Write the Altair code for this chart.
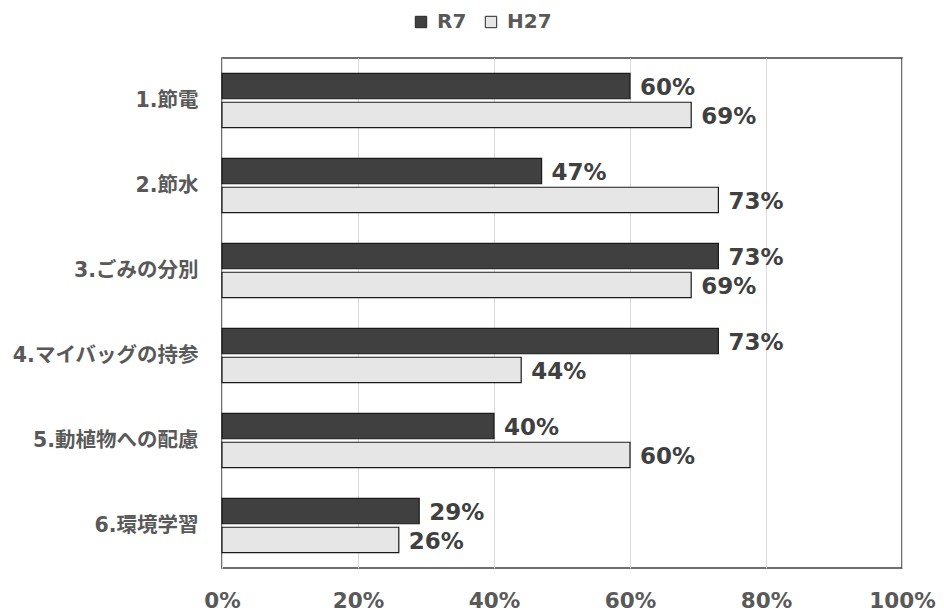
import altair as alt
import pandas as pd

categories = ["1.節電", "2.節水", "3.ごみの分別", "4.マイバッグの持参", "5.動植物への配慮", "6.環境学習"]
series = ["R7", "H27"]
r7_values = [0.60, 0.47, 0.73, 0.73, 0.40, 0.29]
h27_values = [0.69, 0.73, 0.69, 0.44, 0.60, 0.26]
x_ticks = [0, 0.2, 0.4, 0.6, 0.8, 1.0]

rows = []
for c, a, b in zip(categories, r7_values, h27_values):
    rows.append({"category": c, "series": "R7", "value": a})
    rows.append({"category": c, "series": "H27", "value": b})
df = pd.DataFrame(rows)

FONT = "Verdana, DejaVu Sans, Noto Sans CJK JP"
TEXT_GRAY = "#595959"

y_enc = alt.Y("category:N", sort=categories,
              scale=alt.Scale(paddingInner=0.36, paddingOuter=0.18),
              axis=alt.Axis(title=None, labelFont=FONT, labelFontSize=20.5, labelFontWeight="bold",
                            labelColor=TEXT_GRAY, labelPadding=24, labelLimit=400,
                            ticks=False, domain=False))
yoff = alt.YOffset("series:N", sort=series, scale=alt.Scale(paddingInner=0.12))
x_enc = alt.X("value:Q", scale=alt.Scale(domain=[0, 1], nice=False),
              axis=alt.Axis(title=None, format=".0%", values=x_ticks, labelFont=FONT,
                            labelFontSize=21.5, labelFontWeight="bold", labelColor=TEXT_GRAY,
                            labelPadding=22, labelFlush=False, labelOverlap=False,
                            ticks=False, domain=False, grid=True,
                            gridColor="#d9d9d9", gridWidth=1))

bars = alt.Chart(df).mark_bar(stroke="#1a1a1a", strokeWidth=1.2).encode(
    y=y_enc,
    yOffset=yoff,
    x=x_enc,
    color=alt.Color("series:N", sort=series,
                    scale=alt.Scale(domain=series, range=["#404040", "#e6e6e6"]),
                    legend=alt.Legend(title=None, orient="none", direction="horizontal",
                                      legendX=189, legendY=-46, symbolType="square",
                                      symbolSize=130, symbolStrokeColor="#262626",
                                      symbolStrokeWidth=1, labelFont=FONT, labelFontSize=20,
                                      labelFontWeight="bold", labelColor=TEXT_GRAY,
                                      columnPadding=14, labelOffset=6)),
)

labels = alt.Chart(df).mark_text(align="left", baseline="middle", dx=10, dy=2,
                                 font=FONT, fontSize=23, fontWeight="bold",
                                 color="#404040").encode(
    y=alt.Y("category:N", sort=categories),
    yOffset=yoff,
    x=alt.X("value:Q"),
    text=alt.Text("value:Q", format=".0%"),
)

chart = (bars + labels).properties(
    width=680, height=510,
    background="white",
    autosize=alt.AutoSizeParams(type="none"),
    padding={"left": 214, "top": 50, "right": 34, "bottom": 44},
).configure_view(stroke="#404040", strokeWidth=1.5)

chart.save("out.html", embed_options={"renderer": "svg", "actions": False})
